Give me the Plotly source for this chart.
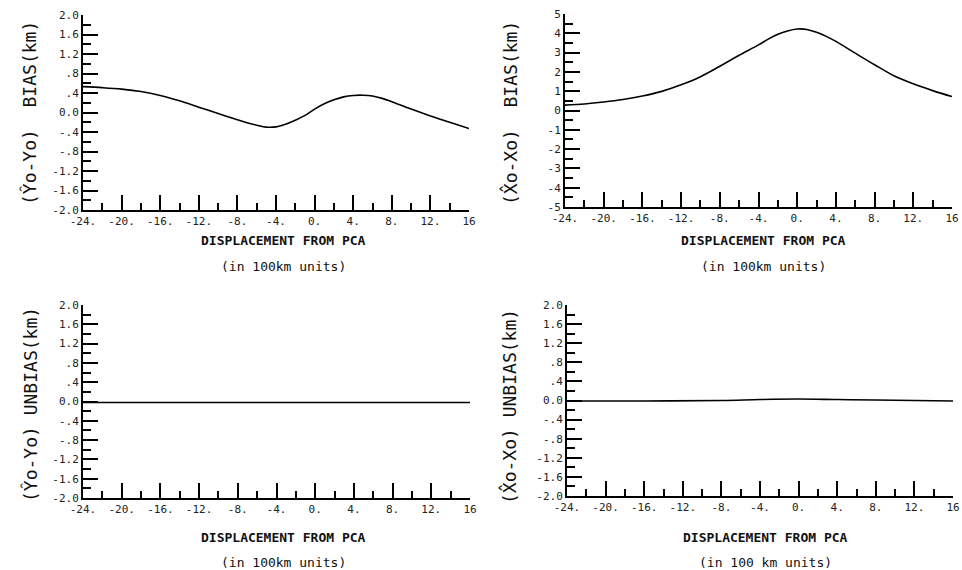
import plotly.graph_objects as go

# ---- data ----
x_tl = [-24, -22, -20, -18, -16, -14, -12, -10, -8, -7, -6, -5, -4, -3, -2, -1, 0, 1, 2, 3, 4, 5, 6, 7, 8, 10, 12, 14, 16]
y_tl = [0.53, 0.51, 0.48, 0.43, 0.35, 0.24, 0.11, -0.02, -0.15, -0.21, -0.26, -0.30, -0.295, -0.24, -0.16, -0.06, 0.07, 0.18, 0.26, 0.32, 0.35, 0.355, 0.34, 0.29, 0.22, 0.07, -0.07, -0.20, -0.33]

x_tr = [-24, -22, -20, -18, -16, -14, -12, -10, -8, -6, -4, -3, -2, -1, 0, 1, 2, 3, 4, 6, 8, 10, 12, 14, 16]
y_tr = [0.28, 0.34, 0.44, 0.57, 0.75, 0.99, 1.33, 1.75, 2.29, 2.86, 3.40, 3.70, 3.95, 4.12, 4.22, 4.20, 4.05, 3.84, 3.58, 2.97, 2.37, 1.80, 1.38, 1.03, 0.72]

x_bl = [-24, -16, -8, 0, 8, 16]
y_bl = [-0.02, -0.02, -0.02, -0.02, -0.02, -0.02]

x_br = [-24, -16, -8, -4, 0, 4, 8, 16]
y_br = [-0.01, -0.01, 0.0, 0.02, 0.03, 0.02, 0.01, -0.01]

x_tickvals = [-24, -20, -16, -12, -8, -4, 0, 4, 8, 12, 16]
x_ticktext = ["-24.", "-20.", "-16.", "-12.", "-8.", "-4.", "0.", "4.", "8.", "12.", "16"]
x_minor = [-22, -18, -14, -10, -6, -2, 2, 6, 10, 14]

y1_tickvals = [-2.0, -1.6, -1.2, -0.8, -0.4, 0.0, 0.4, 0.8, 1.2, 1.6, 2.0]
y1_ticktext = ["-2.0", "-1.6", "-1.2", "-.8", "-.4", "0.0", ".4", ".8", "1.2", "1.6", "2.0"]
y1_minor = [-1.8, -1.4, -1.0, -0.6, -0.2, 0.2, 0.6, 1.0, 1.4, 1.8]

y2_tickvals = [-5, -4, -3, -2, -1, 0, 1, 2, 3, 4, 5]
y2_ticktext = ["-5", "-4", "-3", "-2", "-1", "0", "1", "2", "3", "4", "5"]
y2_minor = [-4.5, -3.5, -2.5, -1.5, -0.5, 0.5, 1.5, 2.5, 3.5, 4.5]

y_titles = ["(Ŷo-Yo)  BIAS(km)", "(X\u0302o-Xo)  BIAS(km)", "(Ŷo-Yo) UNBIAS(km)", "(X\u0302o-Xo) UNBIAS(km)"]
x_title = "DISPLACEMENT FROM PCA"
x_subtitles = ["(in 100km units)", "(in 100km units)", "(in 100km units)", "(in 100 km units)"]

# ---- layout geometry (pixels) ----
W, H = 962, 570
panels = [
    # x0, x1, ytop, ybottom
    (83, 469, 15, 210),
    (565, 952, 14, 207),
    (83, 470, 305, 498),
    (567, 953, 305, 496),
]
ytitle_pos = [(30, 113), (510, 113), (30, 405), (509, 407)]
xtitle_pos = [(283, 240, 266), (763, 240, 266), (283, 537, 562), (765, 537, 562)]

mono = "DejaVu Sans Mono"
fig = go.Figure()
series = [(x_tl, y_tl), (x_tr, y_tr), (x_bl, y_bl), (x_br, y_br)]
yspecs = [
    (y1_tickvals, y1_ticktext, y1_minor, [-2, 2]),
    (y2_tickvals, y2_ticktext, y2_minor, [-5, 5]),
    (y1_tickvals, y1_ticktext, y1_minor, [-2, 2]),
    (y1_tickvals, y1_ticktext, y1_minor, [-2, 2]),
]

annotations = []
for i, ((xs, ys), (x0, x1, yt, yb), ysp) in enumerate(zip(series, panels, yspecs)):
    n = "" if i == 0 else str(i + 1)
    fig.add_trace(go.Scatter(x=xs, y=ys, mode="lines", line=dict(color="black", width=1.6, shape="spline", smoothing=1.0),
                             xaxis="x" + n, yaxis="y" + n, showlegend=False, hoverinfo="skip"))
    xd = [x0 / W, x1 / W]
    yd = [1 - yb / H, 1 - yt / H]
    tv, tt, mv, rng = ysp
    fig.layout["xaxis" + n] = dict(
        domain=xd, anchor="y" + n, range=[-24, 16], showgrid=False, zeroline=False, automargin=False,
        showline=True, linecolor="black", linewidth=2,
        ticks="inside", ticklen=15, tickwidth=1.5, tickcolor="black",
        tickmode="array", tickvals=x_tickvals, ticktext=x_ticktext,
        tickfont=dict(family=mono, size=11, color="#222"),
        minor=dict(ticks="inside", ticklen=7, tickwidth=1.5, tickcolor="black", tickmode="array",
                   tickvals=x_minor),
    )
    fig.layout["yaxis" + n] = dict(
        domain=yd, anchor="x" + n, range=rng, showgrid=False, zeroline=False, automargin=False,
        showline=True, linecolor="black", linewidth=2,
        ticks="inside", ticklen=15, tickwidth=1.5, tickcolor="black",
        tickmode="array", tickvals=tv, ticktext=tt,
        tickfont=dict(family=mono, size=11, color="#222"),
        minor=dict(ticks="inside", ticklen=8, tickwidth=1.5, tickcolor="black", tickmode="array", tickvals=mv),
    )
    tx, ty = ytitle_pos[i]
    annotations.append(dict(text=y_titles[i], x=tx / W, y=1 - ty / H, xref="paper", yref="paper",
                            textangle=-90, showarrow=False, xanchor="center", yanchor="middle",
                            font=dict(family=mono, size=18, color="#111")))
    cx, y1p, y2p = xtitle_pos[i]
    annotations.append(dict(text="<b>" + x_title + "</b>", x=cx / W, y=1 - y1p / H, xref="paper", yref="paper",
                            showarrow=False, xanchor="center", yanchor="middle",
                            font=dict(family=mono, size=13, color="#111")))
    annotations.append(dict(text=x_subtitles[i], x=cx / W, y=1 - y2p / H, xref="paper", yref="paper",
                            showarrow=False, xanchor="center", yanchor="middle",
                            font=dict(family=mono, size=13, color="#111")))

fig.update_layout(width=W, height=H, margin=dict(l=0, r=0, t=0, b=0),
                  paper_bgcolor="white", plot_bgcolor="white", annotations=annotations)
fig.write_html("out.html", config={"displayModeBar": False},
               post_script="document.body.style.margin='0';document.body.style.overflow='hidden';")
